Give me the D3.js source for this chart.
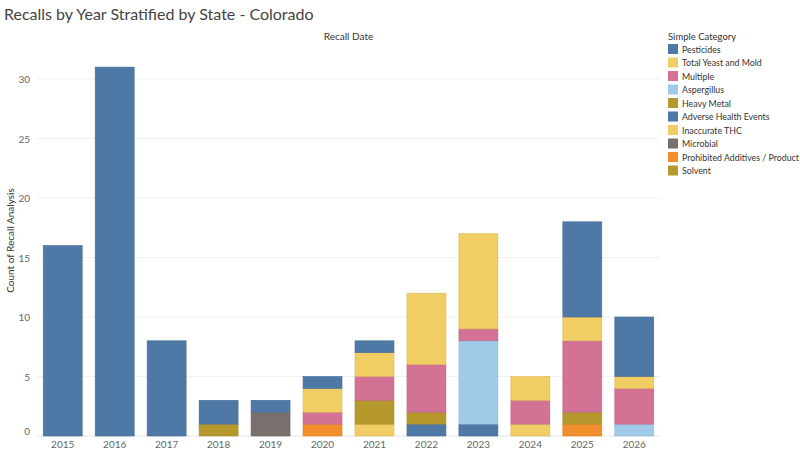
<!DOCTYPE html>
<html><head><meta charset="utf-8">
<script src="https://cdn.jsdelivr.net/npm/d3@7"></script>
<style>body{margin:0;background:#fff;font-family:Lato,"Open Sans",sans-serif}</style>
</head><body><svg id="c" width="800" height="451"></svg>
<script>
const years = ["2015","2016","2017","2018","2019","2020","2021","2022","2023","2024","2025","2026"];
const categories = ["Pesticides","Total Yeast and Mold","Multiple","Aspergillus","Heavy Metal","Adverse Health Events","Inaccurate THC","Microbial","Prohibited Additives / Product","Solvent"];
const colors = ["#4e79a7","#f1ce63","#d37295","#a0cbe8","#b6992d","#4e79a7","#f1ce63","#79706e","#f28e2b","#b6992d"];
const pesticides      = [16,31,8,2,1,1,1,0,0,0,8,5];
const totalYeastMold  = [0,0,0,0,0,2,2,6,8,2,2,1];
const multiple        = [0,0,0,0,0,1,2,4,1,2,6,3];
const aspergillus     = [0,0,0,0,0,0,0,0,7,0,0,1];
const heavyMetal      = [0,0,0,1,0,0,2,1,0,0,1,0];
const adverseHealth   = [0,0,0,0,0,0,0,1,1,0,0,0];
const inaccurateTHC   = [0,0,0,0,0,0,1,0,0,1,0,0];
const microbial       = [0,0,0,0,2,0,0,0,0,0,0,0];
const prohibited      = [0,0,0,0,0,1,0,0,0,0,1,0];
const solvent         = [0,0,0,0,0,0,0,0,0,0,0,0];
const yTicks = [0,5,10,15,20,25,30];
const series = [pesticides,totalYeastMold,multiple,aspergillus,heavyMetal,adverseHealth,inaccurateTHC,microbial,prohibited,solvent];

const svg = d3.select("#c");
const L=37,R=660,T=45,B=436;
const x = d3.scaleBand().domain(years).range([L,R]).paddingInner(0.25).paddingOuter(0.12);
const y = d3.scaleLinear().domain([0,30]).range([B,79]);

svg.append("text").attr("x",4).attr("y",20).attr("font-size",16).attr("fill","#444").text("Recalls by Year Stratified by State - Colorado");
svg.append("text").attr("x",(L+R)/2).attr("y",40).attr("text-anchor","middle").attr("font-size",10).attr("fill","#333").text("Recall Date");
svg.append("text").attr("transform",`translate(14,${(T+B)/2}) rotate(-90)`).attr("text-anchor","middle").attr("font-size",10).attr("fill","#333").text("Count of Recall Analysis");

svg.append("g").selectAll("line").data(yTicks.slice(1)).join("line")
 .attr("x1",L).attr("x2",R).attr("y1",d=>y(d)).attr("y2",d=>y(d)).attr("stroke","#f0f0f0");
svg.append("line").attr("x1",L).attr("x2",R).attr("y1",B).attr("y2",B).attr("stroke","#e6e6e6");
svg.append("g").selectAll("text").data(yTicks).join("text")
 .attr("x",30).attr("y",d=>Math.min(y(d)+4,B-1)).attr("text-anchor","end").attr("font-size",10).attr("fill","#666").text(d=>d);
svg.append("g").selectAll("text").data(years).join("text")
 .attr("x",d=>x(d)+x.bandwidth()/2).attr("y",B+12).attr("text-anchor","middle").attr("font-size",10).attr("fill","#666").text(d=>d);

const g = svg.append("g");
years.forEach((yr,i)=>{
  let base=0;
  for(let c=categories.length-1;c>=0;c--){
    const v=series[c][i]; if(!v) continue;
    g.append("rect").attr("x",x(yr)).attr("width",x.bandwidth())
     .attr("y",y(base+v)).attr("height",y(base)-y(base+v))
     .attr("fill",colors[c]).attr("stroke",d3.color(colors[c]).darker(0.3)).attr("stroke-width",0.6);
    base+=v;
  }
});

const lg = svg.append("g").attr("transform","translate(668,0)");
lg.append("text").attr("x",0).attr("y",40).attr("font-size",9.5).attr("fill","#333").text("Simple Category");
categories.forEach((c,i)=>{
  const yy=44+i*13.5;
  lg.append("rect").attr("x",0).attr("y",yy).attr("width",10).attr("height",10).attr("fill",colors[i]);
  lg.append("text").attr("x",14).attr("y",yy+8.5).attr("font-size",8.8).attr("fill","#333").text(c);
});
</script></body></html>
